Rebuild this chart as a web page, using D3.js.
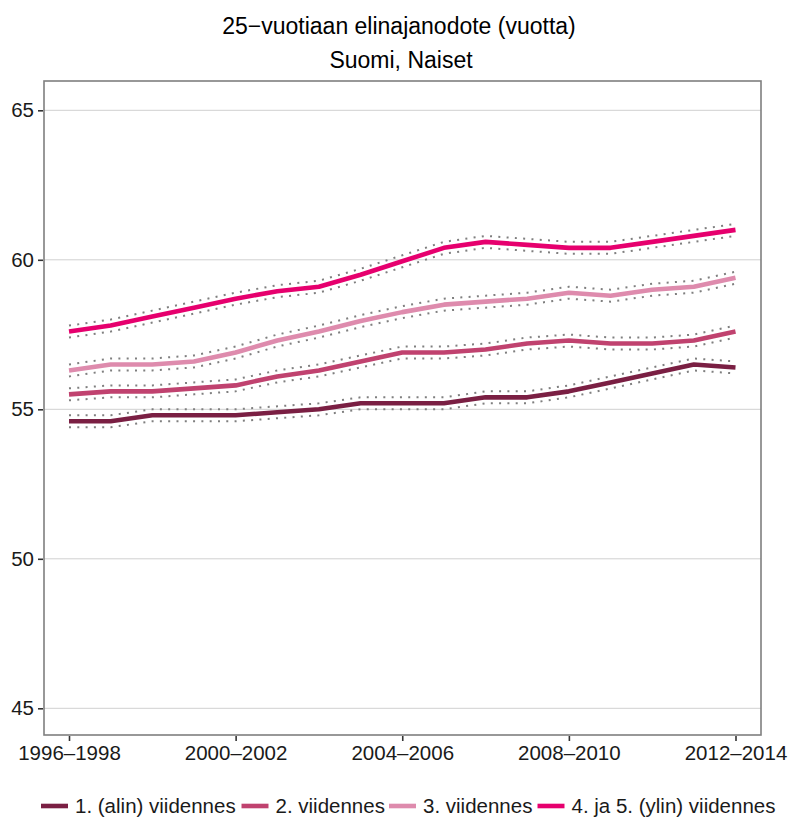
<!DOCTYPE html>
<html>
<head>
<meta charset="utf-8">
<script src="https://cdn.jsdelivr.net/npm/d3@7"></script>
<style>
  html, body { margin: 0; padding: 0; background: #fff; }
  svg { display: block; font-family: "Liberation Sans", Arial, Helvetica, sans-serif; }
</style>
</head>
<body>
<svg id="chart" width="789" height="818"></svg>
<script>
// ---------- data ----------
const periods = ["1996–1998","1997–1999","1998–2000","1999–2001","2000–2002","2001–2003","2002–2004","2003–2005","2004–2006","2005–2007","2006–2008","2007–2009","2008–2010","2009–2011","2010–2012","2011–2013","2012–2014"];
const xTickLabels = ["1996–1998","2000–2002","2004–2006","2008–2010","2012–2014"];
const yTicks = [45, 50, 55, 60, 65];

const seriesNames = ["1. (alin) viidennes","2. viidennes","3. viidennes","4. ja 5. (ylin) viidennes"];
const seriesColors = ["#7a1f43","#c0426f","#de8bad","#e6006e"];

const q1   = [54.6,54.6,54.8,54.8,54.8,54.9,55.0,55.2,55.2,55.2,55.4,55.4,55.6,55.9,56.2,56.5,56.4];
const q1Lo = [54.4,54.4,54.6,54.6,54.6,54.7,54.8,55.0,55.0,55.0,55.2,55.2,55.4,55.7,56.0,56.3,56.2];
const q1Hi = [54.8,54.8,55.0,55.0,55.0,55.1,55.2,55.4,55.4,55.4,55.6,55.6,55.8,56.1,56.4,56.7,56.6];

const q2   = [55.5,55.6,55.6,55.7,55.8,56.1,56.3,56.6,56.9,56.9,57.0,57.2,57.3,57.2,57.2,57.3,57.6];
const q2Lo = [55.3,55.4,55.4,55.5,55.6,55.9,56.1,56.4,56.7,56.7,56.8,57.0,57.1,57.0,57.0,57.1,57.4];
const q2Hi = [55.7,55.8,55.8,55.9,56.0,56.3,56.5,56.8,57.1,57.1,57.2,57.4,57.5,57.4,57.4,57.5,57.8];

const q3   = [56.3,56.5,56.5,56.6,56.9,57.3,57.6,57.95,58.25,58.5,58.6,58.7,58.9,58.8,59.0,59.1,59.4];
const q3Lo = [56.1,56.3,56.3,56.4,56.7,57.1,57.4,57.75,58.05,58.3,58.4,58.5,58.7,58.6,58.8,58.9,59.2];
const q3Hi = [56.5,56.7,56.7,56.8,57.1,57.5,57.8,58.15,58.45,58.7,58.8,58.9,59.1,59.0,59.2,59.3,59.6];

const q45   = [57.6,57.8,58.1,58.4,58.7,58.95,59.1,59.5,59.95,60.4,60.6,60.5,60.4,60.4,60.6,60.8,61.0];
const q45Lo = [57.4,57.6,57.9,58.2,58.5,58.75,58.9,59.3,59.75,60.2,60.4,60.3,60.2,60.2,60.4,60.6,60.8];
const q45Hi = [57.8,58.0,58.3,58.6,58.9,59.15,59.3,59.7,60.15,60.6,60.8,60.7,60.6,60.6,60.8,61.0,61.2];

const titleText = "25−vuotiaan elinajanodote (vuotta)";
const subtitleText = "Suomi, Naiset";

// ---------- layout ----------
const svg = d3.select("#chart");
const panel = { left: 44, right: 761, top: 81, bottom: 735 };

const x = d3.scalePoint().domain(periods).range([69, 735.5]);
const y = d3.scaleLinear().domain([45, 65]).range([708.3, 110.3]);

const series = [
  { name: seriesNames[0], color: seriesColors[0], v: q1,  lo: q1Lo,  hi: q1Hi },
  { name: seriesNames[1], color: seriesColors[1], v: q2,  lo: q2Lo,  hi: q2Hi },
  { name: seriesNames[2], color: seriesColors[2], v: q3,  lo: q3Lo,  hi: q3Hi },
  { name: seriesNames[3], color: seriesColors[3], v: q45, lo: q45Lo, hi: q45Hi }
];

// titles
svg.append("text").attr("x", 399).attr("y", 34).attr("text-anchor", "middle")
  .attr("font-size", 23).attr("fill", "#000").text(titleText);
svg.append("text").attr("x", 401).attr("y", 68).attr("text-anchor", "middle")
  .attr("font-size", 23).attr("fill", "#000").text(subtitleText);

// gridlines
svg.append("g").selectAll("line").data(yTicks).join("line")
  .attr("x1", panel.left).attr("x2", panel.right)
  .attr("y1", d => y(d)).attr("y2", d => y(d))
  .attr("stroke", "#d0d0d0").attr("stroke-width", 1);

// lines
const line = arr => d3.line().x((d, i) => x(periods[i])).y(d => y(d))(arr);

const gLines = svg.append("g");
series.forEach(s => {
  gLines.append("path").attr("d", line(s.v)).attr("fill", "none")
    .attr("stroke", s.color).attr("stroke-width", 4.6).attr("stroke-linejoin", "round");
});
series.forEach(s => {
  [s.lo, s.hi].forEach(b => {
    gLines.append("path").attr("d", line(b)).attr("fill", "none")
      .attr("stroke", "#7f7f7f").attr("stroke-width", 2)
      .attr("stroke-dasharray", "2 6.3");
  });
});

// panel border
svg.append("rect").attr("x", panel.left).attr("y", panel.top)
  .attr("width", panel.right - panel.left).attr("height", panel.bottom - panel.top)
  .attr("fill", "none").attr("stroke", "#7f7f7f").attr("stroke-width", 1.6);

// y axis
const yAxis = d3.axisLeft(y).tickValues(yTicks).tickSize(5).tickPadding(4);
const gy = svg.append("g").attr("transform", `translate(${panel.left - 1},0)`).call(yAxis);
gy.select(".domain").remove();
gy.selectAll(".tick line").attr("stroke", "#333").attr("stroke-width", 1.6);
gy.selectAll(".tick text").attr("font-size", 20.5).attr("fill", "#1a1a1a")
  .attr("font-family", "Liberation Sans, Arial, sans-serif");

// x axis
const xAxis = d3.axisBottom(x).tickValues(xTickLabels).tickSize(5).tickPadding(4);
const gx = svg.append("g").attr("transform", `translate(0,${panel.bottom + 1})`).call(xAxis);
gx.select(".domain").remove();
gx.selectAll(".tick line").attr("stroke", "#333").attr("stroke-width", 1.6);
gx.selectAll(".tick text").attr("font-size", 20.5).attr("fill", "#1a1a1a")
  .attr("font-family", "Liberation Sans, Arial, sans-serif");

// legend
const legendX = [41, 241.5, 389, 537.5];
const lg = svg.append("g");
series.forEach((s, i) => {
  lg.append("line").attr("x1", legendX[i]).attr("x2", legendX[i] + 27)
    .attr("y1", 806).attr("y2", 806)
    .attr("stroke", s.color).attr("stroke-width", 4.6);
  lg.append("text").attr("x", legendX[i] + 34).attr("y", 813)
    .attr("font-size", 20.5).attr("fill", "#1a1a1a").text(s.name);
});
</script>
</body>
</html>
